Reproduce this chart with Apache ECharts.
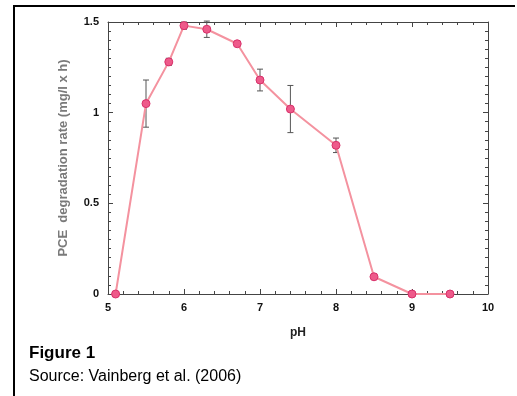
<!DOCTYPE html>
<html>
<head>
<meta charset="utf-8">
<script src="https://cdn.jsdelivr.net/npm/echarts@6/dist/echarts.min.js"></script>
<style>
  html, body { margin: 0; padding: 0; background: #fff; }
  #main { width: 517px; height: 396px; }
</style>
</head>
<body>
<div id="main"></div>
<script>
// data
const phValues = [5.1, 5.5, 5.8, 6.0, 6.3, 6.7, 7.0, 7.4, 8.0, 8.5, 9.0, 9.5];
const rates    = [0, 1.05, 1.28, 1.48, 1.46, 1.38, 1.18, 1.02, 0.82, 0.095, 0, 0];
const errors   = [0, 0.13, 0.02, 0.02, 0.045, 0.01, 0.06, 0.13, 0.04, 0.015, 0, 0];
const xTicks = [5, 6, 7, 8, 9, 10];
const yTicks = [0, 0.5, 1, 1.5];

const font = 'Arial, "Liberation Sans", sans-serif';
const axisCol = '#444';

const chart = echarts.init(document.getElementById('main'));

const points = phValues.map((x, i) => [x, rates[i]]);
const errData = phValues.map((x, i) => [x, rates[i] - errors[i], rates[i] + errors[i]]);

const tickCommon = {
  axisLine: { show: true, onZero: false, lineStyle: { color: axisCol, width: 1 } },
  axisTick: { show: true, inside: true, length: 5, lineStyle: { color: axisCol } },
  splitLine: { show: false }
};

chart.setOption({
  animation: false,
  textStyle: { fontFamily: font },
  grid: { left: 108, right: 29, top: 22, bottom: 102 },
  xAxis: [
    Object.assign({
      type: 'value', min: 5, max: 10, interval: 1,
      minorTick: { show: true, splitNumber: 5, length: 3, lineStyle: { color: axisCol } },
      axisLabel: { color: '#111', fontWeight: 'bold', fontSize: 11, margin: 8, fontFamily: font,
        formatter: v => xTicks.includes(v) ? String(v) : '' },
      name: 'pH', nameLocation: 'middle', nameGap: 33,
      nameTextStyle: { color: '#222', fontWeight: 'bold', fontSize: 12, fontFamily: font }
    }, tickCommon),
    Object.assign({
      type: 'value', min: 5, max: 10, interval: 1, position: 'top',
      minorTick: { show: true, splitNumber: 5, length: 3, lineStyle: { color: axisCol } },
      axisLabel: { show: false }
    }, tickCommon)
  ],
  yAxis: [
    Object.assign({
      type: 'value', min: 0, max: 1.5, interval: 0.5,
      minorTick: { show: true, splitNumber: 10, length: 3, lineStyle: { color: axisCol } },
      axisLabel: { color: '#111', fontWeight: 'bold', fontSize: 11, margin: 9, fontFamily: font,
        formatter: v => yTicks.includes(v) ? String(v) : '' },
      name: 'PCE  degradation rate (mg/l x h)', nameLocation: 'middle', nameGap: 38, nameRotate: 90,
      nameTextStyle: { color: '#7a7a7a', fontWeight: 'bold', fontSize: 13, fontFamily: font }
    }, tickCommon),
    Object.assign({
      type: 'value', min: 0, max: 1.5, interval: 0.5, position: 'right',
      minorTick: { show: true, splitNumber: 10, length: 3, lineStyle: { color: axisCol } },
      axisLabel: { show: false }
    }, tickCommon)
  ],
  series: [
    {
      type: 'custom',
      data: errData,
      z: 1,
      renderItem: function (params, api) {
        if (api.value(2) - api.value(1) < 0.001) return null;
        const top = api.coord([api.value(0), api.value(2)]);
        const bot = api.coord([api.value(0), api.value(1)]);
        const w = 3;
        const st = { stroke: '#555', lineWidth: 1 };
        return {
          type: 'group',
          children: [
            { type: 'line', shape: { x1: top[0], y1: top[1], x2: bot[0], y2: bot[1] }, style: st },
            { type: 'line', shape: { x1: top[0] - w, y1: top[1], x2: top[0] + w, y2: top[1] }, style: st },
            { type: 'line', shape: { x1: bot[0] - w, y1: bot[1], x2: bot[0] + w, y2: bot[1] }, style: st }
          ]
        };
      }
    },
    {
      type: 'line',
      data: points,
      z: 2,
      symbol: 'circle',
      symbolSize: 8,
      lineStyle: { color: '#f4929f', width: 2 },
      itemStyle: { color: '#ee5a8a', borderColor: '#d8306a', borderWidth: 1 }
    }
  ],
  graphic: [
    { type: 'rect', shape: { x: 13, y: 5, width: 502, height: 2 }, style: { fill: '#000' } },
    { type: 'rect', shape: { x: 13, y: 5, width: 2, height: 391 }, style: { fill: '#000' } },
    { type: 'text', left: 29, top: 345, style: { text: 'Figure 1', font: 'bold 17px ' + font, fill: '#000' } },
    { type: 'text', left: 29, top: 369, style: { text: 'Source: Vainberg et al. (2006)', font: '16px ' + font, fill: '#000' } }
  ]
});
</script>
</body>
</html>
